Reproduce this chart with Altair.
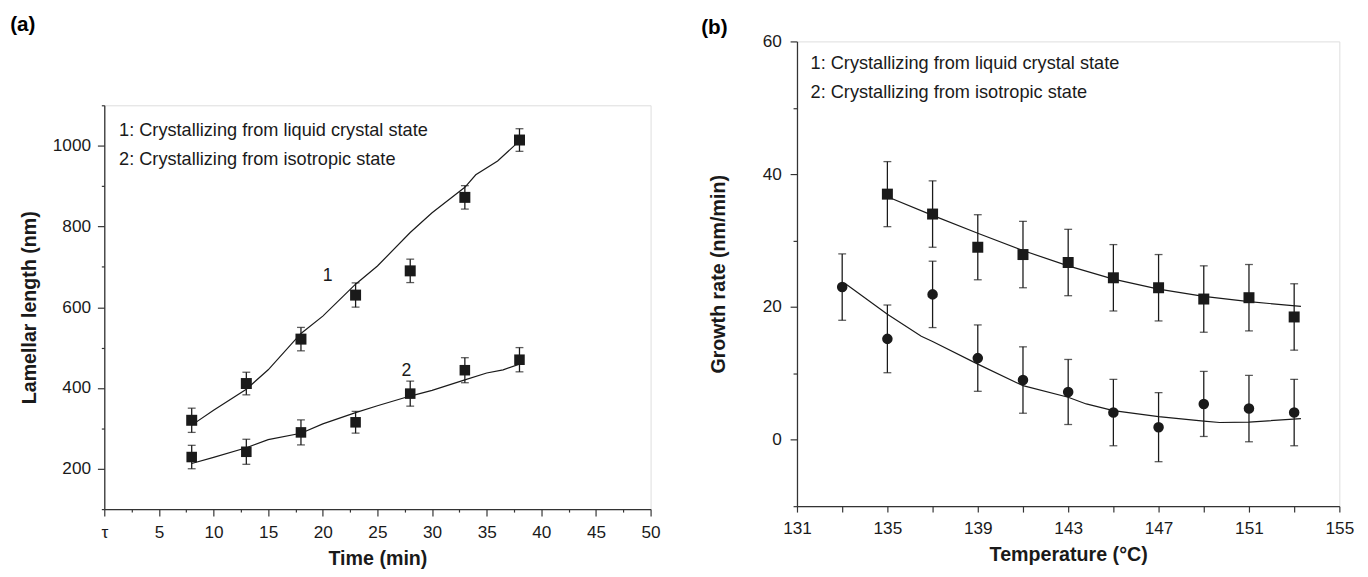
import altair as alt
import pandas as pd

FONT = "Liberation Sans"
INK = "#1a1a1a"
AXC = "#333333"

# ---------------- Panel (a) data ----------------
time_min = [8, 13, 18, 23, 28, 33, 38]
len_lc = [320, 411, 521, 630, 690, 872, 1014]
len_lc_err = [30, 28, 29, 30, 29, 29, 28]
len_iso = [229, 242, 290, 315, 386, 444, 470]
len_iso_err = [29, 31, 31, 27, 31, 31, 30]

fit_lc_t = [8, 10, 13, 15, 18, 20, 23, 25, 28, 30, 33, 34, 36, 38]
fit_lc_y = [308, 345, 397, 445, 535, 578, 657, 702, 785, 834, 897, 928, 962, 1012]
fit_iso_t = [8, 10, 13, 15, 18, 20, 23, 25, 28, 30, 33, 35, 36.5, 38]
fit_iso_y = [213, 228, 252, 272, 288, 311, 339, 356, 380, 394, 420, 437, 445, 459]

# ---------------- Panel (b) data ----------------
temp_iso = [133, 135, 137, 139, 141, 143, 145, 147, 149, 151, 153]
rate_iso = [23.0, 15.2, 21.9, 12.3, 9.0, 7.2, 4.1, 1.9, 5.4, 4.7, 4.1]
rate_iso_err = [5.0, 5.1, 5.0, 5.0, 5.0, 4.9, 5.0, 5.2, 4.9, 5.0, 5.0]
temp_lc = [135, 137, 139, 141, 143, 145, 147, 149, 151, 153]
rate_lc = [37.0, 34.0, 29.0, 27.9, 26.7, 24.4, 22.9, 21.2, 21.4, 18.5]
rate_lc_err = [4.9, 5.0, 4.9, 5.0, 5.0, 5.0, 5.0, 5.0, 5.0, 5.0]

fit_lc_T = [135, 137, 139, 141, 143, 145, 147, 149, 151, 153.3]
fit_lc_r = [36.6, 33.8, 31.1, 28.5, 26.2, 24.2, 22.7, 21.6, 20.8, 20.1]
fit_iso_T = [133.1, 135, 136.5, 137, 139, 141, 143, 143.8, 145, 147, 149, 149.7, 151, 153.3]
fit_iso_r = [23.6, 18.9, 15.6, 14.8, 11.4, 8.15, 6.4, 5.4, 4.4, 3.5, 2.8, 2.6, 2.65, 3.2]

legend_lines = ["1: Crystallizing from liquid crystal state",
                "2: Crystallizing from isotropic state"]


def points_df(xs, ys, errs, series):
    return pd.DataFrame({"x": xs, "y": ys,
                         "lo": [a - b for a, b in zip(ys, errs)],
                         "hi": [a + b for a, b in zip(ys, errs)],
                         "s": series})


def fit_df(xs, ys, series):
    return pd.DataFrame({"x": xs, "y": ys, "s": series})


def panel_title(text, offset, dx):
    return alt.TitleParams(text, anchor="start", frame="bounds", offset=offset, dx=dx,
                           fontSize=21, fontWeight="bold", font=FONT, color="black")


def build_panel(pts, shapes, fits, xscale, yscale, xaxis, yaxis, texts, w, h):
    X = lambda: alt.X("x:Q", scale=xscale, axis=xaxis)
    Y = lambda: alt.Y("y:Q", scale=yscale, axis=yaxis)
    layers = []
    for f in fits:
        layers.append(alt.Chart(f).mark_line(color=INK, strokeWidth=1.2, interpolate="linear")
                      .encode(x=X(), y=Y(), detail="s:N"))
    for p, shp, sz in zip(pts, shapes, [125, 115]):
        layers.append(alt.Chart(p).mark_rule(color=INK, strokeWidth=1.3)
                      .encode(x=X(), y=alt.Y("lo:Q", scale=yscale, axis=yaxis), y2="hi:Q"))
        for col in ["lo", "hi"]:
            layers.append(alt.Chart(p).mark_tick(color=INK, orient="horizontal", size=8, thickness=1.3)
                          .encode(x=X(), y=alt.Y(f"{col}:Q", scale=yscale, axis=yaxis)))
        layers.append(alt.Chart(p).mark_point(shape=shp, filled=True, color=INK, opacity=1, size=sz)
                      .encode(x=X(), y=Y()))
    tdf = pd.DataFrame(texts)
    layers.append(alt.Chart(tdf).mark_text(align="left", baseline="middle", font=FONT, color=INK)
                  .encode(x=X(), y=Y(), text="t:N",
                          size=alt.Size("fs:Q", scale=None, legend=None)))
    return alt.layer(*layers).properties(width=w, height=h)


def axis(title, values, label_expr, tick_test, big, small, pad, tpad):
    return alt.Axis(title=title, values=values, labelExpr=label_expr, grid=False, format="d",
                    tickSize={"condition": {"test": tick_test, "value": big}, "value": small},
                    tickColor=AXC, domainColor=AXC, tickWidth=1.2, domainWidth=1.3,
                    labelFont=FONT, labelFontSize=17.5, labelColor=INK, labelPadding=pad,
                    titleFont=FONT, titleFontSize=20, titleFontWeight="bold", titleColor=INK,
                    titlePadding=tpad, labelOverlap=False, labelFlush=False)


# Panel (a)
xa = axis("Time (min)", [i * 2.5 for i in range(21)],
          "datum.value == 0 ? 'τ' : (datum.value % 5 == 0 ? datum.label : '')",
          "datum.value % 5 == 0", 7, 3, 8, 8)
ya = axis("Lamellar length (nm)", [100 * i for i in range(1, 12)],
          "(datum.value % 200 == 0 && datum.value <= 1000) ? datum.label : ''",
          "datum.value % 200 == 0", 7, 3, 7, 13)
texts_a = [
    {"x": 1.35, "y": 1039, "t": legend_lines[0], "fs": 18.5},
    {"x": 1.35, "y": 966, "t": legend_lines[1], "fs": 18.5},
    {"x": 20.0, "y": 678, "t": "1", "fs": 18},
    {"x": 27.2, "y": 441, "t": "2", "fs": 18},
]
panel_a = build_panel(
    [points_df(time_min, len_lc, len_lc_err, "1"), points_df(time_min, len_iso, len_iso_err, "2")],
    ["square", "square"],
    [fit_df(fit_lc_t, fit_lc_y, "1"), fit_df(fit_iso_t, fit_iso_y, "2")],
    alt.Scale(domain=[0, 50], nice=False, zero=False),
    alt.Scale(domain=[100, 1100], nice=False, zero=False),
    xa, ya, texts_a, 556, 411)

spacer = alt.Chart(pd.DataFrame({"v": [0]})).mark_point(opacity=0).encode(
    x=alt.value(0), y=alt.value(0)
).properties(width=556, height=54, title=panel_title("(a)", 4, -93),
             view=alt.ViewBackground(stroke="transparent"))

left_col = alt.vconcat(spacer, panel_a, spacing=0)

# Panel (b)
xb = axis("Temperature (°C)", [131 + 2 * i for i in range(13)],
          "(datum.value - 131) % 4 == 0 ? datum.label : ''",
          "(datum.value - 131) % 4 == 0", 6, 6, 8, 8)
yb = axis("Growth rate (nm/min)", [-10 + 10 * i for i in range(8)],
          "(datum.value % 20 == 0) ? datum.label : ''",
          "datum.value % 20 == 0", 7, 4, 9, 34)
texts_b = [
    {"x": 131.6, "y": 56.7, "t": legend_lines[0], "fs": 18.5},
    {"x": 131.6, "y": 52.3, "t": legend_lines[1], "fs": 18.5},
]
panel_b = build_panel(
    [points_df(temp_lc, rate_lc, rate_lc_err, "1"), points_df(temp_iso, rate_iso, rate_iso_err, "2")],
    ["square", "circle"],
    [fit_df(fit_lc_T, fit_lc_r, "1"), fit_df(fit_iso_T, fit_iso_r, "2")],
    alt.Scale(domain=[131, 155], nice=False, zero=False),
    alt.Scale(domain=[-10, 60], nice=False, zero=False),
    xb, yb, texts_b, 552, 473).properties(title=panel_title("(b)", -5, -8))

chart = alt.hconcat(left_col, panel_b, spacing=40).properties(
    padding={"left": 1, "top": 0, "right": 5, "bottom": 0}
).configure_view(stroke=AXC, strokeWidth=1.3).configure(background="white")

chart.save("out.html", embed_options={"renderer": "svg", "actions": False})
